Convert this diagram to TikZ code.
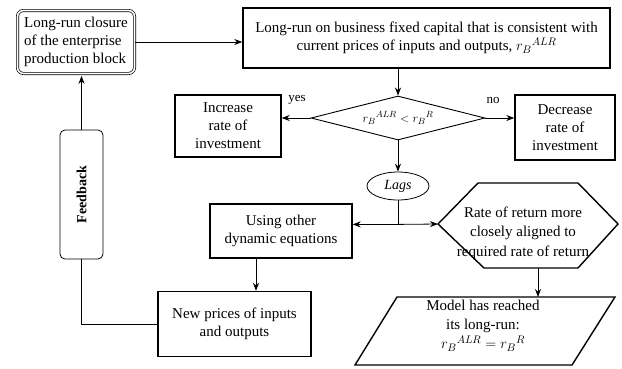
\documentclass[tikz,border=0pt]{standalone}
\usepackage{fontspec}
\setmainfont{Liberation Serif}
\usetikzlibrary{shapes.geometric,arrows.meta,calc}
\begin{document}
\begin{tikzpicture}[x=1pt,y=-1pt,
  every node/.style={font=\fontsize{15}{18}\selectfont, align=center, inner sep=2pt},
  box/.style={draw, line width=1.4pt, rectangle},
  arr/.style={-{Stealth[length=8pt,width=6pt]}, line width=0.8pt},
  ln/.style={line width=0.8pt},
  lbl/.style={font=\fontsize{13}{15}\selectfont, inner sep=0pt}]
\useasboundingbox (0,0) rectangle (622,368);

% nodes
\node[draw, double, line width=0.7pt, double distance=1.6pt, rounded corners=6pt,
      minimum width=117pt, minimum height=63pt, align=left] (lrc) at (76,42)
      {Long-run closure\\of the enterprise\\production block};
\node[box, minimum width=367pt, minimum height=60pt] (top) at (426.5,38)
      {Long-run on business fixed capital that is consistent with\\current prices of inputs and outputs, ${r_B}^{ALR}$};
\node[draw, diamond, line width=0.9pt, minimum width=174pt, minimum height=44pt,
      aspect=3.9, inner sep=0pt] (dia) at (398,118)
      {\fontsize{13}{15}\selectfont ${r_B}^{ALR} < {r_B}^R$};
\node[box, minimum width=106pt, minimum height=62pt] (inc) at (228,126) {Increase\\rate of\\investment};
\node[box, minimum width=100pt, minimum height=65pt] (dec) at (565,127.5) {Decrease\\rate of\\investment};
\node[lbl] (yes) at (297,100) {yes};
\node[lbl] (no) at (493,100) {no};
\node[draw, ellipse, line width=0.8pt, minimum width=62pt, minimum height=28pt, inner sep=0pt,
      font=\fontsize{14}{16}\selectfont\itshape] (lags) at (398,186) {Lags};
\node[box, minimum width=142pt, minimum height=54pt] (use) at (281,231) {Using other\\dynamic equations};
\node[box, minimum width=153pt, minimum height=65pt] (newp) at (234.5,324) {New prices of inputs\\and outputs};
\node[draw, rounded corners=5pt, line width=0.8pt, minimum width=43pt, minimum height=129pt] (fb) at (81.5,194.5) {};
\node[rotate=90, font=\fontsize{14}{16}\selectfont\bfseries] (fbt) at (fb.center) {Feedback};

% hexagon
\coordinate (hexW) at (438,224);
\coordinate (hexS) at (538,268);
\draw[line width=1.4pt] (hexW) -- (478,183) -- (578,183) -- (618,224) -- (578,268) -- (484,268) -- cycle;
\node[font=\fontsize{15}{19.5}\selectfont] (hext) at (523,233) {Rate of return more\\closely aligned to\\required rate of return};

% parallelogram
\coordinate (parT) at (538,297);
\draw[line width=1.4pt] (355,365) -- (397,297) -- (615,297) -- (572,365) -- cycle;
\node[font=\fontsize{15}{19}\selectfont] (model) at (483,326) {Model has reached\\its long-run:\\${r_B}^{ALR} = {r_B}^R$};

% connectors
\draw[arr] (lrc.east) -- (lrc.east -| top.west);
\draw[arr] (dia.north |- top.south) -- (dia.north);
\draw[arr] (dia.west) -- (dia.west -| inc.east);
\draw[arr] (dia.east) -- (dia.east -| dec.west);
\draw[arr] (dia.south) -- (lags.north);
\coordinate (j) at ($(lags.south)+(0,24)$);
\draw[ln] (lags.south) -- (j);
\draw[arr] (j) -- (j -| use.east);
\draw[arr] (j) -- (hexW);
\coordinate (ux) at (256,0);
\draw[arr] (use.south -| ux) -- (newp.north -| ux);
\draw[ln] (newp.west) -| (fb.south);
\draw[arr] (fb.north) -- ($(fb.north |- lrc.south)+(0,2)$);
\draw[arr] (hexS) -- (parT);
\end{tikzpicture}
\end{document}
